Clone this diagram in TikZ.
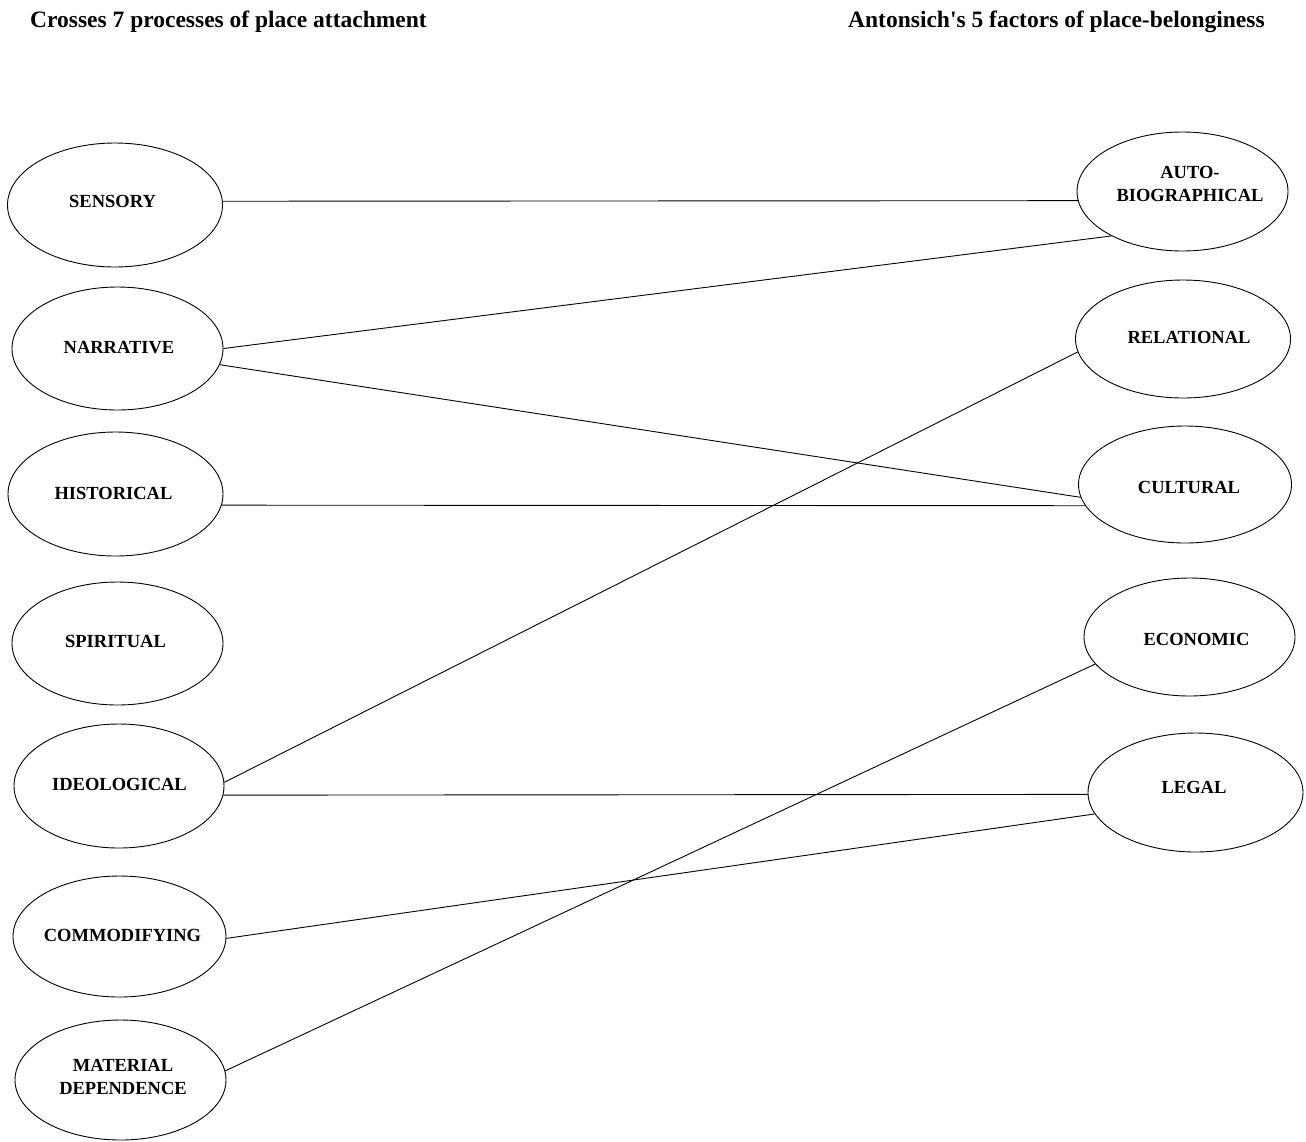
\documentclass[tikz,border=0pt]{standalone}
\usepackage{fontspec}
\setmainfont{Liberation Serif}
\usetikzlibrary{shapes.geometric}
\tikzset{
  ell/.style={draw=black, line width=0.9pt, ellipse, inner sep=0pt, fill=white},
  lbl/.style={font=\fontsize{18.5}{23.5}\selectfont\bfseries, align=center, inner sep=0pt},
  ttl/.style={font=\fontsize{23.5}{28}\selectfont\bfseries, inner sep=0pt, anchor=base west},
  conn/.style={draw=black, line width=0.9pt}
}
\newcommand{\ellnode}[5]{\node[ell, minimum width=#4, minimum height=#5] (#1) at (#2,#3) {};}
\begin{document}
\begin{tikzpicture}[x=1pt,y=-1pt]
\useasboundingbox[fill=white] (0,0) rectangle (1306,1141);
% titles
\node[ttl] (t1) at (30,27) {Crosses 7 processes of place attachment};
\node[ttl] (t2) at (848,27) {Antonsich\textquotesingle s 5 factors of place-belonginess};
% left ellipses
\ellnode{sens}{115}{205}{215}{124}
\ellnode{narr}{117.5}{348.5}{211}{123}
\ellnode{hist}{115.5}{494}{215}{124}
\ellnode{spir}{117.5}{643.5}{211}{123}
\ellnode{ideo}{119}{786}{210}{124}
\ellnode{comm}{119.5}{936.5}{213}{121}
\ellnode{mat}{120.5}{1080}{211}{120}
% right ellipses
\ellnode{auto}{1182.5}{191.5}{211}{119}
\ellnode{rel}{1183}{339}{215}{118}
\ellnode{cult}{1185}{484.5}{213}{117}
\ellnode{econ}{1189.5}{637}{211}{118}
\ellnode{legal}{1195.5}{792.5}{215}{119}
% labels
\node[lbl] (lsens) at (112.5,201.5) {SENSORY};
\node[lbl] (lnarr) at (119,348) {NARRATIVE};
\node[lbl] (lhist) at (113.5,493.5) {HISTORICAL};
\node[lbl] (lspir) at (115.5,641.5) {SPIRITUAL};
\node[lbl] (lideo) at (119.5,784) {IDEOLOGICAL};
\node[lbl] (lcomm) at (122.5,935) {COMMODIFYING};
\node[lbl] (lmat) at (123,1077) {MATERIAL\\DEPENDENCE};
\node[lbl] (lauto) at (1190,184) {AUTO-\\BIOGRAPHICAL};
\node[lbl] (lrel) at (1189,337.5) {RELATIONAL};
\node[lbl] (lcult) at (1189,487.5) {CULTURAL};
\node[lbl] (lecon) at (1196.5,639) {ECONOMIC};
\node[lbl] (llegal) at (1194,787.5) {LEGAL};
% connectors
\draw[conn] (sens.2.1) -- (auto.185.1);
\draw[conn] (narr.0) -- (auto.212.3);
\draw[conn] (narr.-9.8) -- (cult.187);
\draw[conn] (hist.-6.4) -- (cult.192.2);
\draw[conn] (ideo.2.2) -- (rel.187.7);
\draw[conn] (ideo.-5.4) -- (legal.181.9);
\draw[conn] (comm.-1.9) -- (legal.192.7);
\draw[conn] (mat.5) -- (econ.196.8);
\end{tikzpicture}
\end{document}
